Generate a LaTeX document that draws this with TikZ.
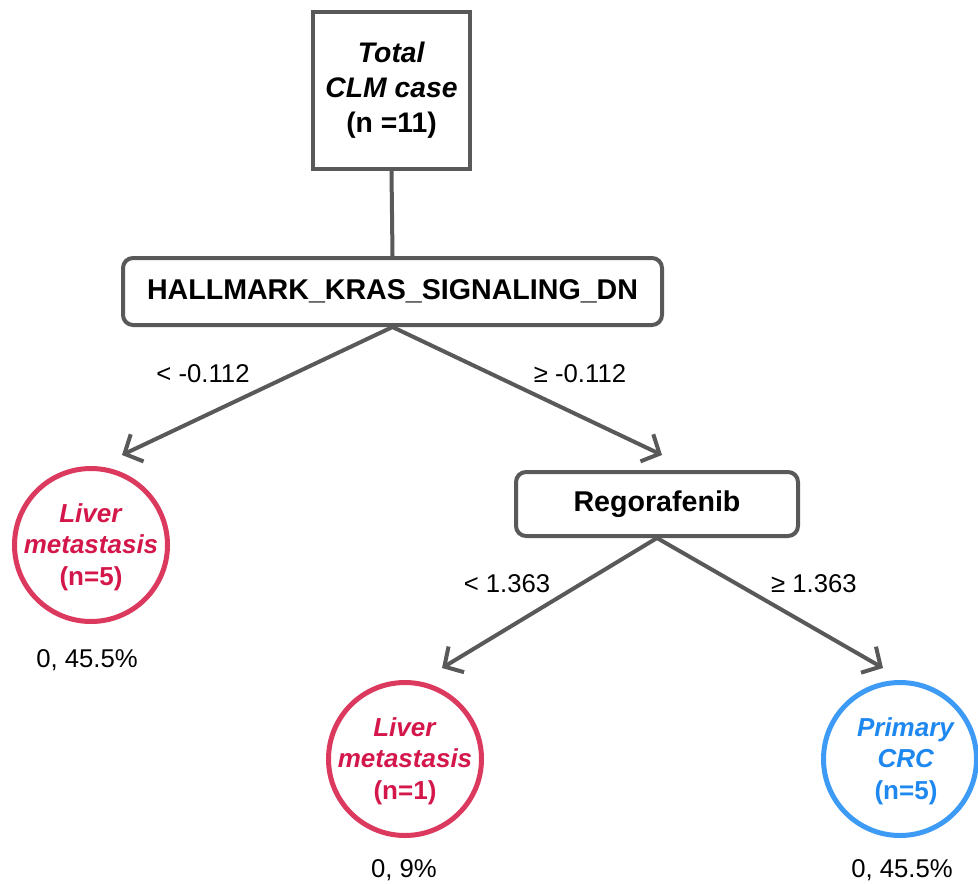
\documentclass[tikz,border=0pt]{standalone}
\usepackage{fontspec}
\setmainfont{Liberation Sans}
\usetikzlibrary{arrows.meta}
\definecolor{lg}{HTML}{595959}
\definecolor{crim}{HTML}{DB3A5E}
\definecolor{crimtext}{HTML}{D4174B}
\definecolor{blu}{HTML}{3D9BF5}
\definecolor{blutext}{HTML}{1E88F0}
\begin{document}
\begin{tikzpicture}[x=1pt,y=-1pt,
  sq/.style={draw=lg,line width=4pt,minimum width=157pt,minimum height=157pt,inner sep=0pt,align=center,font=\fontsize{28.3}{35}\selectfont\bfseries},
  rbox/.style={draw=lg,line width=4pt,rounded corners=10pt,inner sep=0pt,font=\fontsize{28.6}{30}\selectfont\bfseries},
  leaf/.style={circle,line width=5pt,minimum size=153pt,inner sep=0pt},
  leaftext/.style={align=center,inner sep=0pt,font=\fontsize{26}{31.5}\selectfont\bfseries},
  lab/.style={font=\fontsize{25.7}{30}\selectfont},
  arr/.style={draw=lg,line width=4pt,-{Straight Barb[length=14pt,width=30pt]}}]
\useasboundingbox (0,0) rectangle (978,884);
\node[sq] (top) at (391.5,90.5) {\textit{Total}\\\textit{CLM case}\\(n =11)};
\node[rbox,minimum width=539pt,minimum height=67pt] (hall) at (392.5,291.5) {HALLMARK\_KRAS\_SIGNALING\_DN};
\node[rbox,minimum width=282pt,minimum height=64pt] (rego) at (657,504) {Regorafenib};
\node[leaf,draw=crim] (l1) at (91,545) {};
\node[leaf,draw=crim] (l2) at (405,759) {};
\node[leaf,draw=blu] (l3) at (900,759) {};
\node[leaftext,text=crimtext] (l1t) at (91,547) {\textit{Liver}\\\textit{metastasis}\\(n=5)};
\node[leaftext,text=crimtext] (l2t) at (405,761) {\textit{Liver}\\\textit{metastasis}\\(n=1)};
\node[leaftext,text=blutext] (l3t) at (906,761) {\textit{Primary}\\\textit{CRC}\\(n=5)};
\node[lab] (p1) at (87,660) {0, 45.5\%};
\node[lab] (p2) at (404,870) {0, 9\%};
\node[lab] (p3) at (902,870) {0, 45.5\%};
\coordinate (t1) at (122,455);
\coordinate (t2) at (662,455);
\coordinate (t3) at (442,668);
\coordinate (t4) at (883,668);
\draw[draw=lg,line width=4pt] (top.south) -- (hall.north);
\draw[arr] (hall.south) -- (t1);
\draw[arr] (hall.south) -- (t2);
\draw[arr] (rego.south) -- (t3);
\draw[arr] (rego.south) -- (t4);
\node[lab] (c1) at (203,374) {< -0.112};
\node[lab] (c2) at (580,374) {≥ -0.112};
\node[lab] (c3) at (507,584) {< 1.363};
\node[lab] (c4) at (814,584) {≥ 1.363};
\end{tikzpicture}
\end{document}
